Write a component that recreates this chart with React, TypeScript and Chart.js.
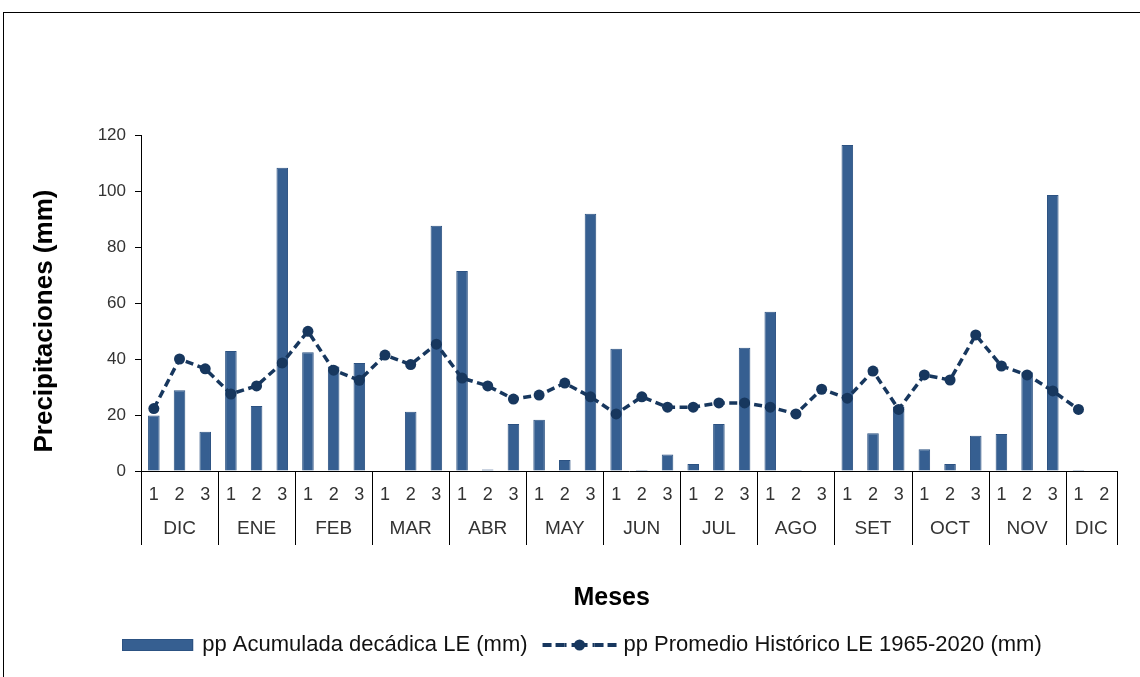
import React, { useEffect, useRef } from 'react';
import { Chart, registerables } from 'chart.js';

Chart.register(...registerables);

const decadeLabels = [
  '1', '2', '3', '1', '2', '3', '1', '2', '3', '1', '2', '3', '1', '2', '3', '1', '2', '3', '1',
  '2', '3', '1', '2', '3', '1', '2', '3', '1', '2', '3', '1', '2', '3', '1', '2', '3', '1', '2',
];
const monthNames = ['DIC', 'ENE', 'FEB', 'MAR', 'ABR', 'MAY', 'JUN', 'JUL', 'AGO', 'SET', 'OCT', 'NOV', 'DIC'];
const monthSpans = [3, 3, 3, 3, 3, 3, 3, 3, 3, 3, 3, 3, 2];

const ppAcumulada = [
  19.8, 28.8, 14.0, 42.9, 23.2, 108.3, 42.4, 37.3, 38.6, 0, 21.2, 87.6, 71.4, 0.5, 16.8, 18.3, 3.9, 91.9, 43.7,
  0.4, 5.9, 2.5, 16.8, 44.0, 56.9, 0.4, 0, 116.4, 13.5, 23.0, 7.8, 2.5, 12.6, 13.2, 35.3, 98.6, 0.4, 0,
];
const ppPromedio = [
  22.3, 40.0, 36.5, 27.5, 30.4, 38.6, 49.9, 36.0, 32.4, 41.4, 38.0, 45.3, 33.2, 30.4, 25.7, 27.1, 31.4, 26.5, 20.4,
  26.5, 22.8, 22.8, 24.3, 24.3, 22.8, 20.4, 29.2, 26.0, 35.7, 22.0, 34.3, 32.5, 48.6, 37.5, 34.3, 28.6, 22.0, null,
];

const yMin = 0;
const yMax = 120;
const yStep = 20;

const seriesNames = ['pp Acumulada decádica LE (mm)', 'pp Promedio Histórico LE 1965-2020 (mm)'];

const FONT = "'Liberation Sans', Arial, sans-serif";
const BAR_COLOR = '#365F91';
const BAR_BORDER = '#2C5282';
const LINE_COLOR = '#17375E';
const TEXT_COLOR = '#333333';

const monthGroupsPlugin = {
  id: 'monthGroups',
  afterDraw(chart: any) {
    const xs = chart.scales.x;
    const area = chart.chartArea;
    const ctx = chart.ctx as CanvasRenderingContext2D;
    const edges: number[] = [0];
    monthSpans.forEach((s) => edges.push(edges[edges.length - 1] + s));
    ctx.save();
    ctx.strokeStyle = '#000';
    ctx.lineWidth = 1;
    edges.forEach((e) => {
      const px = Math.round(xs.getPixelForValue(e - 0.5)) + 0.5;
      ctx.beginPath();
      ctx.moveTo(px, area.bottom);
      ctx.lineTo(px, area.bottom + 74);
      ctx.stroke();
    });
    ctx.font = `19px ${FONT}`;
    ctx.fillStyle = TEXT_COLOR;
    ctx.textAlign = 'center';
    ctx.textBaseline = 'middle';
    monthNames.forEach((m, i) => {
      const center = (edges[i] + edges[i + 1] - 1) / 2;
      ctx.fillText(m, xs.getPixelForValue(center), area.bottom + 58);
    });
    ctx.restore();
  },
};

// Custom legend drawn below the axis title (bar swatch + dashed line with marker)
const customLegendPlugin = {
  id: 'customLegend',
  afterDraw(chart: any) {
    const ctx = chart.ctx as CanvasRenderingContext2D;
    const area = chart.chartArea;
    const cy = area.bottom + 174;
    const swBar = 71;
    const swLine = 74;
    const gapText = 9;
    const gapItem = 15;
    ctx.save();
    ctx.font = `22px ${FONT}`;
    const w0 = ctx.measureText(seriesNames[0]).width;
    const w1 = ctx.measureText(seriesNames[1]).width;
    const total = swBar + gapText + w0 + gapItem + swLine + gapText + w1;
    let x = (area.left + area.right) / 2 - 46 - total / 2;

    // bar swatch
    ctx.fillStyle = BAR_COLOR;
    ctx.fillRect(x, cy - 6, swBar, 12);
    ctx.strokeStyle = BAR_BORDER;
    ctx.lineWidth = 1;
    ctx.strokeRect(Math.round(x) + 0.5, cy - 5.5, swBar - 1, 11);
    x += swBar + gapText;
    ctx.fillStyle = '#111';
    ctx.textAlign = 'left';
    ctx.textBaseline = 'middle';
    ctx.fillText(seriesNames[0], x, cy);
    x += w0 + gapItem;

    // line swatch
    ctx.strokeStyle = LINE_COLOR;
    ctx.lineWidth = 4;
    const segs = [[0, 9], [13, 22], [22, 52], [52, 61], [65, 74]];
    segs.forEach(([a, b]) => {
      ctx.beginPath();
      ctx.moveTo(x + a, cy);
      ctx.lineTo(x + b, cy);
      ctx.stroke();
    });
    ctx.fillStyle = LINE_COLOR;
    ctx.beginPath();
    ctx.arc(x + 37, cy, 5.5, 0, Math.PI * 2);
    ctx.fill();
    // gap "holes" between dashes around the marker
    ctx.fillStyle = '#fff';
    ctx.fillRect(x + 24, cy - 3, 5, 6);
    ctx.fillRect(x + 45, cy - 3, 5, 6);
    x += swLine + gapText - 2;
    ctx.fillStyle = '#111';
    ctx.fillText(seriesNames[1], x, cy);
    ctx.restore();
  },
};

export default function App() {
  const ref = useRef<HTMLCanvasElement | null>(null);

  useEffect(() => {
    if (!ref.current) return;
    const chart = new Chart(ref.current, {
      type: 'bar',
      data: {
        labels: decadeLabels,
        datasets: [
          {
            type: 'line',
            label: seriesNames[1],
            data: ppPromedio,
            borderColor: LINE_COLOR,
            backgroundColor: LINE_COLOR,
            borderWidth: 3.5,
            borderDash: [8, 4.5],
            pointRadius: 5.5,
            pointBackgroundColor: LINE_COLOR,
            pointBorderColor: LINE_COLOR,
            pointBorderWidth: 0,
            tension: 0,
            fill: false,
            order: 1,
          } as any,
          {
            type: 'bar',
            label: seriesNames[0],
            data: ppAcumulada,
            backgroundColor: BAR_COLOR,
            borderColor: BAR_BORDER,
            borderWidth: 1,
            categoryPercentage: 0.9,
            barPercentage: 0.5,
            order: 2,
          } as any,
        ],
      },
      options: {
        responsive: false,
        animation: false,
        devicePixelRatio: 1,
        layout: { padding: { top: 135, right: 23, left: 0, bottom: 56 } },
        plugins: {
          tooltip: { enabled: false },
          legend: { display: false },
        },
        scales: {
          x: {
            type: 'category',
            offset: true,
            grid: { display: false, drawTicks: false },
            border: { display: true, color: '#000', width: 1 },
            ticks: {
              autoSkip: false,
              maxRotation: 0,
              padding: 13,
              color: TEXT_COLOR,
              font: { size: 18, family: FONT },
            },
            title: {
              display: true,
              text: 'Meses     ',
              color: '#000',
              font: { size: 25, weight: 'bold', family: FONT },
              padding: { top: 0, bottom: 8 },
            },
            afterFit: (scale: any) => {
              scale.height = 150;
            },
          },
          y: {
            min: yMin,
            max: yMax,
            ticks: {
              stepSize: yStep,
              padding: 9,
              color: TEXT_COLOR,
              font: { size: 17, family: FONT },
            },
            grid: {
              display: true,
              drawOnChartArea: false,
              drawTicks: true,
              tickLength: 6,
              color: '#000',
            },
            border: { display: true, color: '#000', width: 1 },
            title: {
              display: true,
              text: 'Precipitaciones (mm)     ',
              color: '#000',
              font: { size: 26, weight: 'bold', family: FONT },
              padding: { top: 29, bottom: 0 },
            },
            afterFit: (scale: any) => {
              scale.width = 141;
            },
          },
        },
      },
      plugins: [monthGroupsPlugin, customLegendPlugin],
    } as any);
    return () => chart.destroy();
  }, []);

  return (
    <div style={{ position: 'fixed', left: 0, top: 0, width: 1140, height: 677, background: '#fff', overflow: 'hidden' }}>
      <canvas ref={ref} width={1140} height={677} style={{ display: 'block', width: 1140, height: 677 }} />
      <div
        style={{
          position: 'absolute',
          left: 3,
          top: 12,
          width: 1150,
          height: 700,
          border: '1px solid #000',
          pointerEvents: 'none',
        }}
      />
    </div>
  );
}
